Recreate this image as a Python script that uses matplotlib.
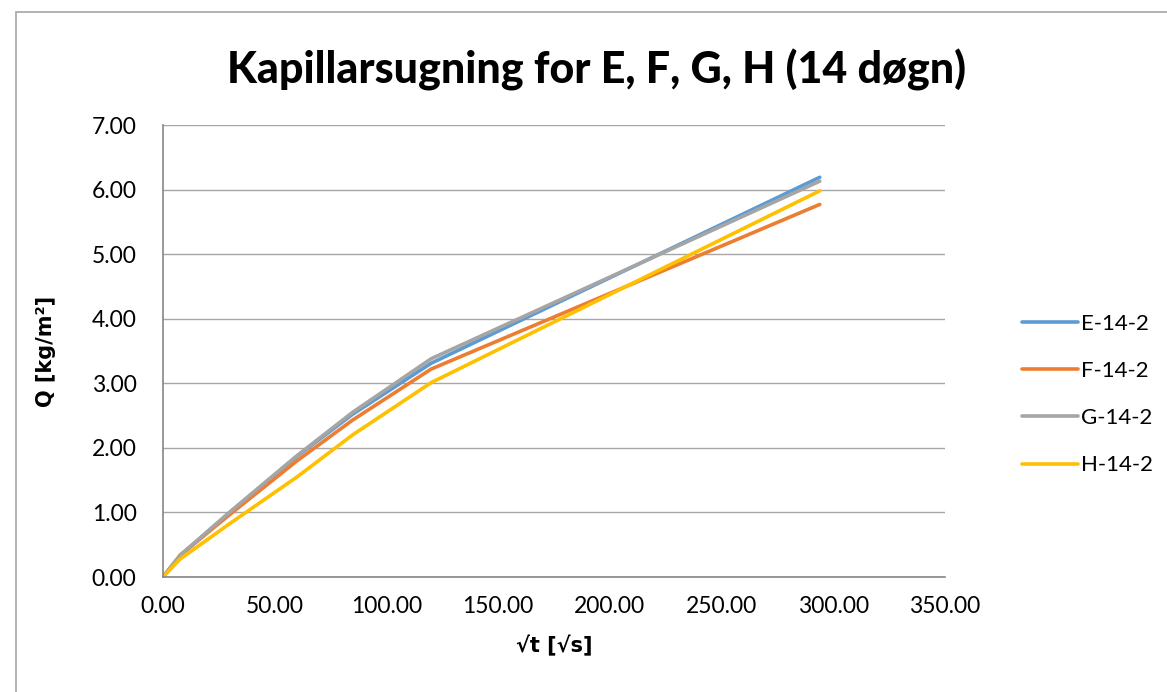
import matplotlib
matplotlib.use("Agg")
import matplotlib.pyplot as plt
from matplotlib.patches import Rectangle

# Data
sqrt_t = [0, 7.75, 30, 60, 84.85, 120, 293.94]
series_names = ["E-14-2", "F-14-2", "G-14-2", "H-14-2"]
q_E = [0, 0.33, 1.00, 1.87, 2.52, 3.31, 6.19]
q_F = [0, 0.34, 0.97, 1.80, 2.43, 3.22, 5.77]
q_G = [0, 0.34, 1.01, 1.88, 2.55, 3.38, 6.13]
q_H = [0, 0.28, 0.83, 1.55, 2.20, 3.01, 5.98]
colors = ["#5B9BD5", "#ED7D31", "#A5A5A5", "#FFC000"]
x_ticks = [0, 50, 100, 150, 200, 250, 300, 350]
y_ticks = [0, 1, 2, 3, 4, 5, 6, 7]

plt.rcParams['font.family'] = ['Lato', 'DejaVu Sans']

W, H = 1167, 692
fig = plt.figure(figsize=(W / 100, H / 100), dpi=100)
ax = fig.add_axes([163 / W, 1 - 577 / H, (945 - 163) / W, (577 - 125) / H])

for vals, name, c in zip([q_E, q_F, q_G, q_H], series_names, colors):
    ax.plot(sqrt_t, vals, color=c, lw=2.6, label=name, solid_capstyle='round',
            solid_joinstyle='round')

ax.set_xlim(0, 350)
ax.set_ylim(0, 7)
ax.set_xticks(x_ticks)
ax.set_yticks(y_ticks)
ax.set_xticklabels([f"{v:.2f}" for v in x_ticks])
ax.set_yticklabels([f"{v:.2f}" for v in y_ticks])
ax.tick_params(axis='both', length=0, labelsize=16.5)
ax.tick_params(axis='x', pad=14)
ax.tick_params(axis='y', pad=19)
ax.yaxis.grid(True, color="#A6A6A6", lw=1.0)
ax.set_axisbelow(True)
for s in ["top", "right"]:
    ax.spines[s].set_visible(False)
for s in ["left", "bottom"]:
    ax.spines[s].set_color("#868686")
    ax.spines[s].set_linewidth(1.2)

ax.set_xlabel("√t [√s]", fontsize=15, fontweight='bold', labelpad=13,
              family=['DejaVu Sans'])
ax.set_ylabel("Q [kg/m²]", fontsize=15, fontweight='bold', labelpad=26,
              family=['DejaVu Sans'])

fig.text(597 / W, 1 - 70 / H, "Kapillarsugning for E, F, G, H (14 døgn)",
         ha='center', va='center', fontsize=31, fontweight='black')

leg = fig.legend(loc='upper left', bbox_to_anchor=(1022 / W, 1 - 314 / H),
                 frameon=False, fontsize=16, handlelength=2.5,
                 labelspacing=1.22, handletextpad=0.15, borderpad=0,
                 borderaxespad=0)

fig.patches.append(Rectangle((16 / W, -0.1), 1.2, (1 - 12 / H) + 0.1,
                             transform=fig.transFigure, fill=False,
                             edgecolor="#A6A6A6", lw=1.2))

fig.savefig("out.png", dpi=100)
